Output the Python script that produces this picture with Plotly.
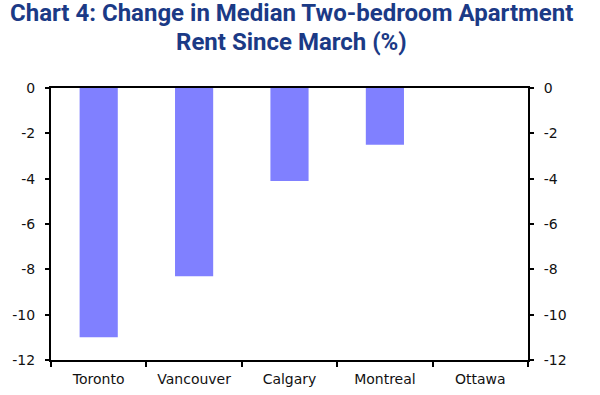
import plotly.graph_objects as go

cities = ["Toronto", "Vancouver", "Calgary", "Montreal", "Ottawa"]
rent_change = [-11.0, -8.3, -4.1, -2.5, 0.0]
y_ticks = [0, -2, -4, -6, -8, -10, -12]
y_tick_labels = ["0", "-2", "-4", "-6", "-8", "-10", "-12"]
title_lines = ["Chart 4: Change in Median Two-bedroom Apartment", "Rent Since March (%)"]

fig = go.Figure()
fig.add_trace(go.Bar(x=cities, y=rent_change, marker=dict(color="#8080FF", line=dict(width=0)),
                     yaxis="y", hoverinfo="x+y"))
fig.add_trace(go.Bar(x=cities, y=[None] * len(cities), yaxis="y2", showlegend=False, hoverinfo="skip"))

axis_font = dict(family="DejaVu Sans, sans-serif", size=14, color="#111111")
yax = dict(range=[-12, 0], tickvals=y_ticks, ticktext=y_tick_labels, showline=True,
           linecolor="black", linewidth=2, ticks="outside", ticklen=4, tickwidth=2,
           tickcolor="black", tickfont=axis_font, showgrid=False, zeroline=False)
fig.update_layout(
    width=600, height=395,
    margin=dict(l=51, r=72, t=88, b=35, autoexpand=False),
    paper_bgcolor="white", plot_bgcolor="white",
    showlegend=False, bargap=0.6, barmode="overlay",
    xaxis=dict(showline=True, linecolor="black", linewidth=2, mirror=True, ticks="outside",
               tickson="boundaries", ticklen=5, tickwidth=2, tickcolor="black",
               tickfont=axis_font, showgrid=False, ticklabelstandoff=5),
    yaxis=dict(**yax, ticklabelstandoff=7),
    yaxis2=dict(**yax, overlaying="y", side="right", ticklabelstandoff=7),
)
title_font = dict(family="Roboto, sans-serif", size=24, color="#1B3A86")
for line, ypos in zip(title_lines, [1.274, 1.168]):
    fig.add_annotation(text="<b>" + line + "</b>", xref="paper", yref="paper", x=0.505, y=ypos,
                       xanchor="center", yanchor="middle", showarrow=False, font=title_font)

fig.write_html("out.html", config={"displayModeBar": False},
               post_script="document.body.style.margin='0px';")
